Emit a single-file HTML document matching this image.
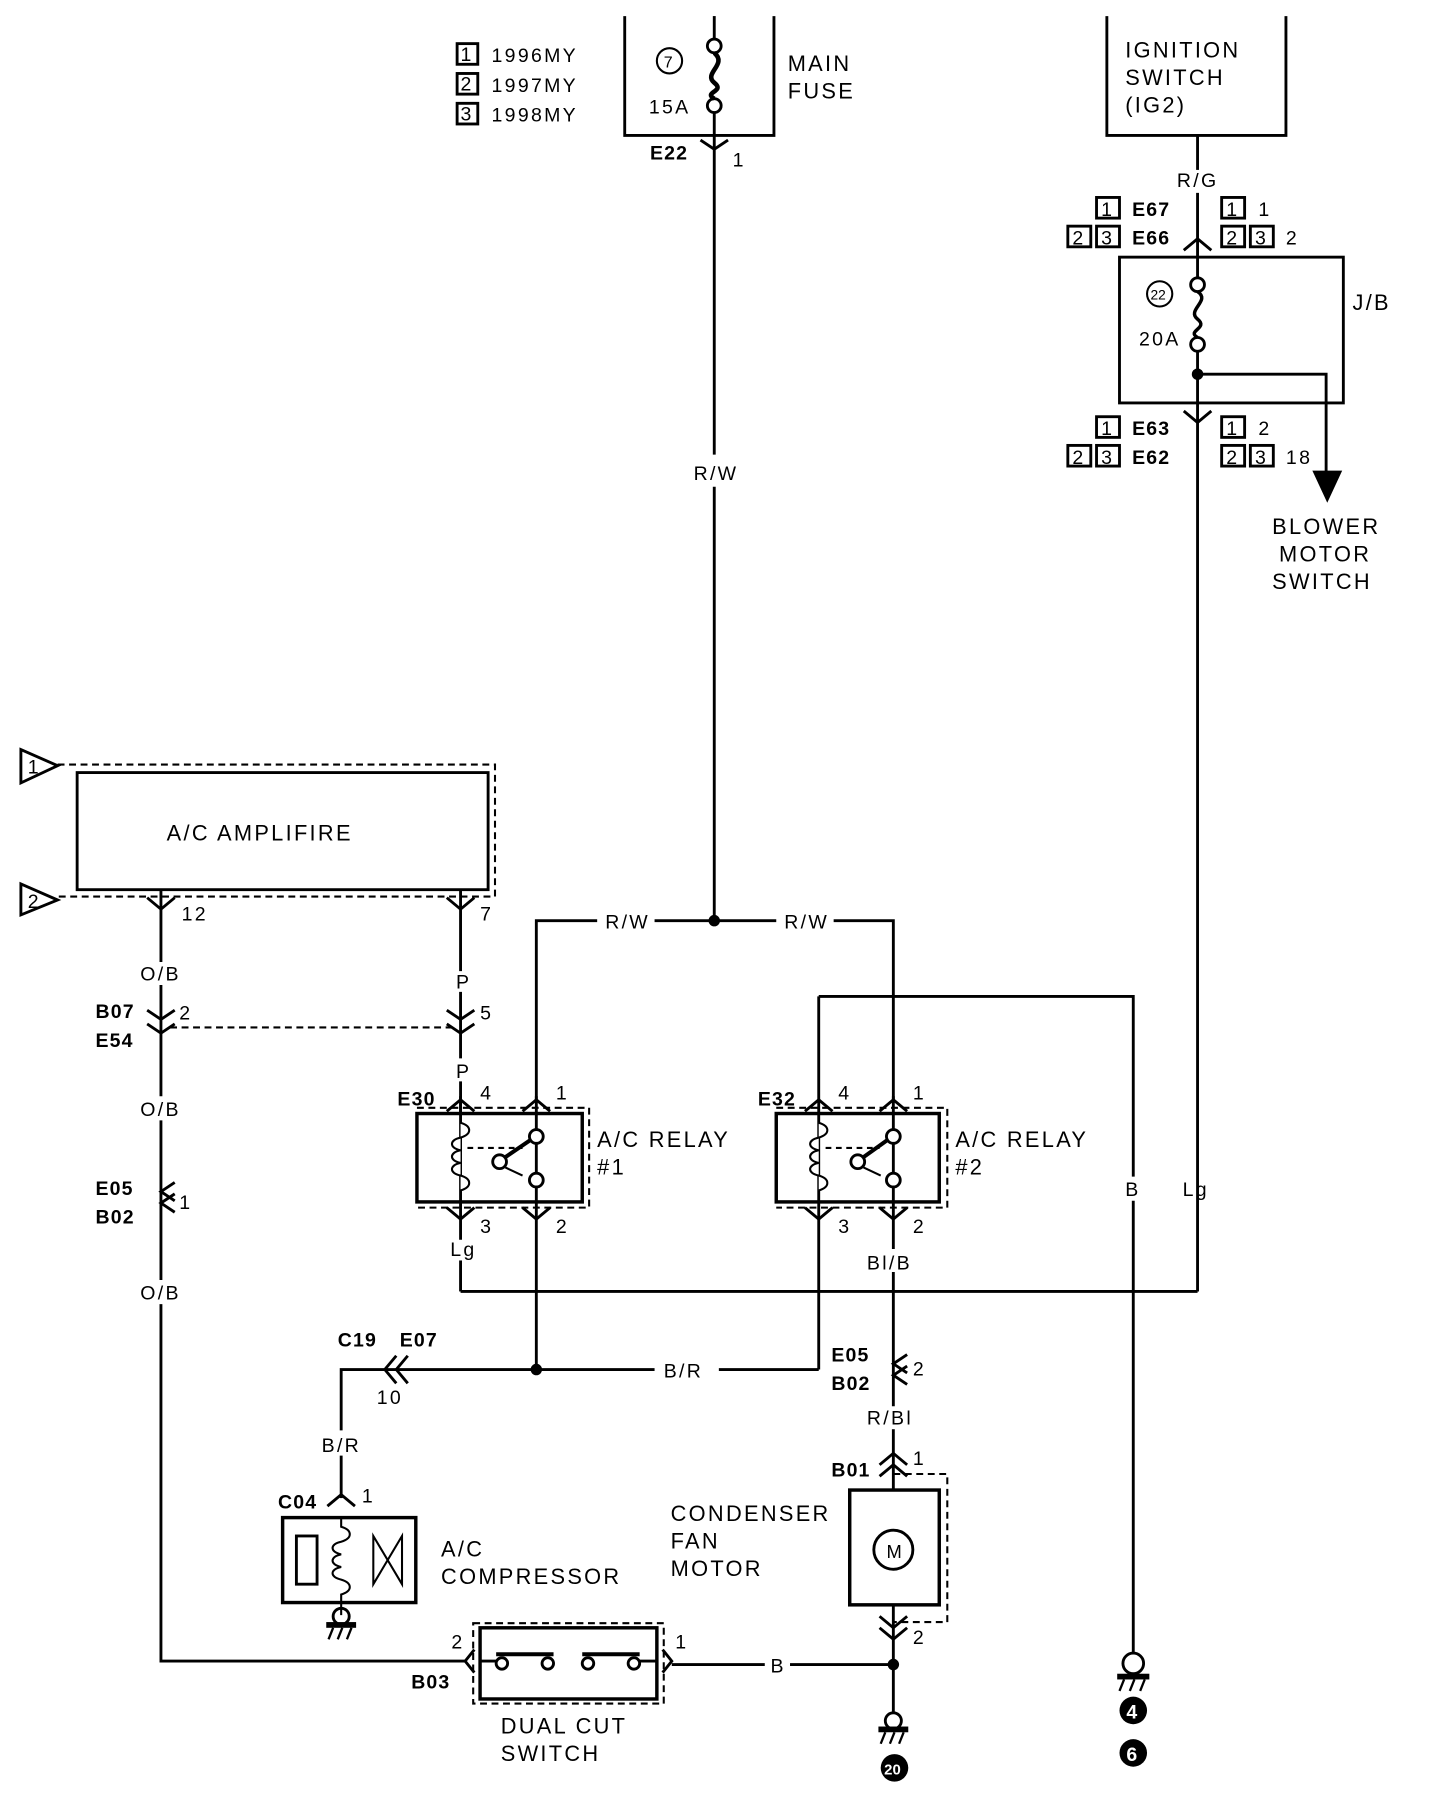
<!DOCTYPE html>
<html><head><meta charset="utf-8"><style>
html,body{margin:0;padding:0;background:#fff;}
svg{display:block;}
text{font-family:"Liberation Sans",sans-serif;font-size:19px;letter-spacing:2px;fill:#000;}
.b{font-weight:bold;letter-spacing:1px;}
.s{font-size:17px;}
</style></head><body>
<svg width="1440" height="1800" viewBox="0 0 1254 1568" xmlns="http://www.w3.org/2000/svg">
<g fill="none" stroke="#000" stroke-width="2.5">
<rect x="398" y="38" width="18" height="18"/><rect x="398" y="64" width="18" height="18"/><rect x="398" y="90" width="18" height="18"/>
<polyline points="544,14 544,118 674,118 674,14"/>
<line x1="622" y1="14" x2="622" y2="34"/>
<circle cx="622" cy="40" r="6"/><circle cx="622" cy="92" r="6"/>
<path d="M622,46 C634,56 612,64 622,72 C632,80 612,80 622,86" stroke-width="4"/>
<circle cx="583" cy="53" r="11" stroke-width="1.8"/>
<line x1="622" y1="98" x2="622" y2="396"/>
<line x1="622" y1="424" x2="622" y2="802"/>
<polyline points="610,122 622,130 634,122"/>
<polyline points="964,14 964,118 1120,118 1120,14"/>
<line x1="1043" y1="118" x2="1043" y2="148"/>
<line x1="1043" y1="168" x2="1043" y2="242"/>
<polyline points="1031,218 1043,208 1055,218"/>
<rect x="955" y="172" width="20" height="18"/><rect x="930" y="197" width="20" height="18"/><rect x="955" y="197" width="20" height="18"/>
<rect x="1064" y="172" width="20" height="18"/><rect x="1064" y="197" width="20" height="18"/><rect x="1089" y="197" width="20" height="18"/>
<rect x="975" y="224" width="195" height="127"/>
<circle cx="1043" cy="248" r="6"/><circle cx="1043" cy="300" r="6"/>
<path d="M1043,254 C1055,262 1033,270 1043,278 C1053,286 1033,288 1043,294" stroke-width="3"/>
<circle cx="1010" cy="256" r="11" stroke-width="1.8"/>
<line x1="1043" y1="306" x2="1043" y2="1125"/>
<polyline points="1043,326 1155,326 1155,412"/>
<polyline points="1031,358 1043,368 1055,358"/>
<rect x="955" y="363" width="20" height="18"/><rect x="930" y="388" width="20" height="18"/><rect x="955" y="388" width="20" height="18"/>
<rect x="1064" y="363" width="20" height="18"/><rect x="1064" y="388" width="20" height="18"/><rect x="1089" y="388" width="20" height="18"/>
<rect x="67" y="673" width="358" height="102"/>
<path d="M18,653 L50,667 L18,682 Z"/><path d="M18,770 L50,784 L18,797 Z"/>
<polyline points="50,666 431,666 431,781 50,781" stroke-dasharray="6,4" stroke-width="1.8"/>
<line x1="140" y1="775" x2="140" y2="838"/>
<polyline points="128,782 140,792 152,782"/>
<line x1="401" y1="775" x2="401" y2="846"/>
<polyline points="389,782 401,792 413,782"/>
<line x1="140" y1="858" x2="140" y2="955"/>
<polyline points="128,880 140,888 152,880"/><polyline points="128,892 140,900 152,892"/>
<line x1="148" y1="895" x2="393" y2="895" stroke-dasharray="6,4" stroke-width="1.8"/>
<line x1="140" y1="976" x2="140" y2="1115"/>
<polyline points="152,1030 140,1038 152,1046"/><polyline points="152,1040 140,1048 152,1056"/>
<polyline points="140,1136 140,1447 405,1447"/>
<line x1="401" y1="864" x2="401" y2="922"/>
<polyline points="389,880 401,888 413,880"/><polyline points="389,892 401,900 413,892"/>
<line x1="401" y1="942" x2="401" y2="970"/>
<polyline points="467,960 467,802 520,802"/><line x1="570" y1="802" x2="676" y2="802"/><polyline points="726,802 778,802 778,960"/>
<rect x="363" y="970" width="144" height="77" stroke-width="3"/>
<polyline points="363,965 513,965 513,1052 363,1052" stroke-dasharray="6,4" stroke-width="1.8"/>
<line x1="401" y1="955" x2="401" y2="1080"/><line x1="467" y1="955" x2="467" y2="1193"/>
<polyline points="389,968 401,958 413,968"/><polyline points="455,968 467,958 479,968"/>
<polyline points="389,1052 401,1062 413,1052"/><polyline points="455,1052 467,1062 479,1052"/>
<path d="M401,978 c10,3 10,10 0,13 c-10,2 -10,9 0,11 c-10,2 -10,9 0,11 c-10,2 -10,9 0,11 c10,3 10,10 0,13" stroke-width="1.8" fill="#fff"/>
<line x1="407" y1="1000" x2="455" y2="1000" stroke-dasharray="5,4" stroke-width="1.8"/>
<circle cx="467" cy="990" r="6" fill="#fff"/><circle cx="435" cy="1012" r="6" fill="#fff"/><circle cx="467" cy="1028" r="6" fill="#fff"/>
<line x1="440" y1="1008" x2="462" y2="993" stroke-width="3.5"/><line x1="440" y1="1017" x2="455" y2="1024" stroke-width="1.8"/>
<rect x="676" y="970" width="142" height="77" stroke-width="3"/>
<polyline points="676,965 825,965 825,1052 676,1052" stroke-dasharray="6,4" stroke-width="1.8"/>
<line x1="713" y1="868" x2="713" y2="1193"/><line x1="778" y1="955" x2="778" y2="1088"/>
<polyline points="701,968 713,958 725,968"/><polyline points="766,968 778,958 790,968"/>
<polyline points="701,1052 713,1062 725,1052"/><polyline points="766,1052 778,1062 790,1052"/>
<path d="M713,978 c10,3 10,10 0,13 c-10,2 -10,9 0,11 c-10,2 -10,9 0,11 c-10,2 -10,9 0,11 c10,3 10,10 0,13" stroke-width="1.8" fill="#fff"/>
<line x1="719" y1="1000" x2="766" y2="1000" stroke-dasharray="5,4" stroke-width="1.8"/>
<circle cx="778" cy="990" r="6" fill="#fff"/><circle cx="747" cy="1012" r="6" fill="#fff"/><circle cx="778" cy="1028" r="6" fill="#fff"/>
<line x1="752" y1="1008" x2="773" y2="993" stroke-width="3.5"/><line x1="752" y1="1017" x2="767" y2="1024" stroke-width="1.8"/>
<polyline points="713,868 987,868 987,1025"/>
<line x1="987" y1="1046" x2="987" y2="1440"/>
<line x1="401" y1="1098" x2="401" y2="1125"/><line x1="401" y1="1125" x2="1043" y2="1125"/>
<polyline points="297,1246 297,1193 570,1193"/><line x1="297" y1="1268" x2="297" y2="1305"/><polyline points="626,1193 713,1193"/>
<polyline points="345,1181 335,1193 345,1205"/><polyline points="355,1181 345,1193 355,1205"/>
<polyline points="285,1312 297,1302 309,1312"/>
<rect x="246" y="1322" width="116" height="74" stroke-width="3"/>
<rect x="258" y="1338" width="18" height="42"/>
<path d="M297,1322 v8 c10,3 10,10 0,13 c-10,2 -10,9 0,11 c-10,2 -10,9 0,11 c-10,2 -10,9 0,11 c10,3 10,10 0,13 v18" stroke-width="1.8"/>
<path d="M325,1338 L350,1380 L350,1338 L325,1380 Z" stroke-width="1.8"/>
<circle cx="297" cy="1408" r="7"/>
<line x1="778" y1="1108" x2="778" y2="1225"/>
<polyline points="790,1180 778,1188 790,1196"/><polyline points="790,1190 778,1198 790,1206"/>
<line x1="778" y1="1245" x2="778" y2="1298"/>
<polyline points="766,1276 778,1266 790,1276"/><polyline points="766,1286 778,1276 790,1286"/>
<rect x="740" y="1298" width="78" height="100" stroke-width="3"/>
<polyline points="778,1284 825,1284 825,1413 778,1413" stroke-dasharray="6,4" stroke-width="1.8"/>
<circle cx="778" cy="1350" r="17"/>
<line x1="778" y1="1398" x2="778" y2="1493"/>
<polyline points="766,1408 778,1418 790,1408"/><polyline points="766,1418 778,1428 790,1418"/>
<circle cx="778" cy="1499" r="7"/>
<rect x="418" y="1418" width="154" height="62" stroke-width="3"/>
<rect x="412" y="1414" width="166" height="70" stroke-dasharray="6,4" stroke-width="1.8"/>
<polyline points="413,1437 405,1447 413,1457"/><polyline points="577,1437 585,1447 577,1457"/>
<circle cx="437" cy="1449" r="5"/><circle cx="477" cy="1449" r="5"/><circle cx="512" cy="1449" r="5"/><circle cx="552" cy="1449" r="5"/>
<line x1="432" y1="1441" x2="482" y2="1441" stroke-width="3.5"/><line x1="507" y1="1441" x2="557" y2="1441" stroke-width="3.5"/>
<line x1="418" y1="1447" x2="432" y2="1447"/><line x1="557" y1="1447" x2="572" y2="1447"/>
<line x1="585" y1="1450" x2="666" y2="1450"/><line x1="688" y1="1450" x2="778" y2="1450"/>
<circle cx="987" cy="1449" r="9"/>
</g>
<g fill="#000">
<path d="M1143,410 L1169,410 L1156,438 Z"/>
<circle cx="622" cy="802" r="5"/><circle cx="1043" cy="326" r="5"/><circle cx="467" cy="1193" r="5"/><circle cx="778" cy="1450" r="5"/>
<rect x="284" y="1413" width="26" height="5"/><rect x="765" y="1504" width="26" height="5"/><rect x="973" y="1458" width="28" height="5"/>
<circle cx="987" cy="1490" r="12"/><circle cx="987" cy="1527" r="12"/><circle cx="779" cy="1540" r="12"/>
</g>
<g stroke="#000" stroke-width="2">
<line x1="290" y1="1418" x2="286" y2="1428"/><line x1="298" y1="1418" x2="294" y2="1428"/><line x1="306" y1="1418" x2="302" y2="1428"/>
<line x1="771" y1="1509" x2="767" y2="1519"/><line x1="779" y1="1509" x2="775" y2="1519"/><line x1="787" y1="1509" x2="783" y2="1519"/>
<line x1="979" y1="1463" x2="975" y2="1473"/><line x1="988" y1="1463" x2="984" y2="1473"/><line x1="997" y1="1463" x2="993" y2="1473"/>
</g>
<g>
<text x="401" y="53" class="s">1</text><text x="401" y="79" class="s">2</text><text x="401" y="105" class="s">3</text>
<text x="428" y="54" class="s">1996MY</text><text x="428" y="80" class="s">1997MY</text><text x="428" y="106" class="s">1998MY</text>
<text x="578" y="59" style="font-size:14px;letter-spacing:0">7</text>
<text x="565" y="99" class="s">15A</text>
<text x="686" y="62">MAIN</text><text x="686" y="86">FUSE</text>
<text x="566" y="139" class="b s">E22</text><text x="638" y="145" class="s">1</text>
<text x="604" y="418" class="s">R/W</text>
<text x="980" y="50">IGNITION</text><text x="980" y="74">SWITCH</text><text x="980" y="98">(IG2)</text>
<text x="1025" y="163" class="s">R/G</text>
<text x="959" y="188" class="s">1</text><text x="986" y="188" class="b s">E67</text>
<text x="934" y="213" class="s">2</text><text x="959" y="213" class="s">3</text><text x="986" y="213" class="b s">E66</text>
<text x="1068" y="188" class="s">1</text><text x="1096" y="188" class="s">1</text>
<text x="1068" y="213" class="s">2</text><text x="1093" y="213" class="s">3</text><text x="1120" y="213" class="s">2</text>
<text x="1002" y="261" style="font-size:12px;letter-spacing:0">22</text>
<text x="992" y="301" class="s">20A</text>
<text x="1178" y="270">J/B</text>
<text x="959" y="379" class="s">1</text><text x="986" y="379" class="b s">E63</text>
<text x="934" y="404" class="s">2</text><text x="959" y="404" class="s">3</text><text x="986" y="404" class="b s">E62</text>
<text x="1068" y="379" class="s">1</text><text x="1096" y="379" class="s">2</text>
<text x="1068" y="404" class="s">2</text><text x="1093" y="404" class="s">3</text><text x="1120" y="404" class="s">18</text>
<text x="1108" y="465">BLOWER</text><text x="1114" y="489">MOTOR</text><text x="1108" y="513">SWITCH</text>
<text x="24" y="674" class="s" style="letter-spacing:0">1</text><text x="24" y="791" class="s" style="letter-spacing:0">2</text>
<text x="145" y="732">A/C AMPLIFIRE</text>
<text x="158" y="802" class="s">12</text><text x="418" y="802" class="s">7</text>
<text x="122" y="854" class="s">O/B</text><text x="397" y="861" class="s">P</text>
<text x="83" y="887" class="b s">B07</text><text x="83" y="912" class="b s">E54</text><text x="156" y="888" class="s">2</text><text x="418" y="888" class="s">5</text>
<text x="397" y="939" class="s">P</text>
<text x="122" y="972" class="s">O/B</text>
<text x="83" y="1041" class="b s">E05</text><text x="83" y="1066" class="b s">B02</text><text x="156" y="1053" class="s">1</text>
<text x="122" y="1132" class="s">O/B</text>
<text x="527" y="809" class="s">R/W</text><text x="683" y="809" class="s">R/W</text>
<text x="346" y="963" class="b s">E30</text><text x="418" y="958" class="s">4</text><text x="484" y="958" class="s">1</text>
<text x="520" y="999">A/C RELAY</text><text x="520" y="1023">#1</text>
<text x="418" y="1074" class="s">3</text><text x="484" y="1074" class="s">2</text>
<text x="392" y="1094" class="s">Lg</text>
<text x="660" y="963" class="b s">E32</text><text x="730" y="958" class="s">4</text><text x="795" y="958" class="s">1</text>
<text x="832" y="999">A/C RELAY</text><text x="832" y="1023">#2</text>
<text x="730" y="1074" class="s">3</text><text x="795" y="1074" class="s">2</text>
<text x="980" y="1042" class="s">B</text><text x="1030" y="1042" class="s">Lg</text>
<text x="755" y="1106" class="s">Bl/B</text>
<text x="294" y="1173" class="b s">C19</text><text x="348" y="1173" class="b s">E07</text><text x="328" y="1223" class="s">10</text>
<text x="578" y="1200" class="s">B/R</text>
<text x="724" y="1186" class="b s">E05</text><text x="724" y="1211" class="b s">B02</text><text x="795" y="1198" class="s">2</text>
<text x="755" y="1241" class="s">R/Bl</text>
<text x="280" y="1265" class="s">B/R</text>
<text x="242" y="1314" class="b s">C04</text><text x="315" y="1309" class="s">1</text>
<text x="384" y="1356">A/C</text><text x="384" y="1380">COMPRESSOR</text>
<text x="724" y="1286" class="b s">B01</text><text x="795" y="1276" class="s">1</text>
<text x="584" y="1325">CONDENSER</text><text x="584" y="1349">FAN</text><text x="584" y="1373">MOTOR</text>
<text x="772" y="1357" style="font-size:16px;letter-spacing:0">M</text>
<text x="795" y="1432" class="s">2</text>
<text x="393" y="1436" class="s">2</text><text x="588" y="1436" class="s">1</text>
<text x="358" y="1471" class="b s">B03</text>
<text x="671" y="1457" class="s">B</text>
<text x="436" y="1510">DUAL CUT</text><text x="436" y="1534">SWITCH</text>
<text x="981" y="1497" class="b" style="fill:#fff;font-size:17px">4</text>
<text x="981" y="1534" class="b" style="fill:#fff;font-size:17px">6</text>
<text x="770" y="1546" class="b" style="fill:#fff;font-size:13px;letter-spacing:0">20</text>
</g>
</svg>
</body></html>
